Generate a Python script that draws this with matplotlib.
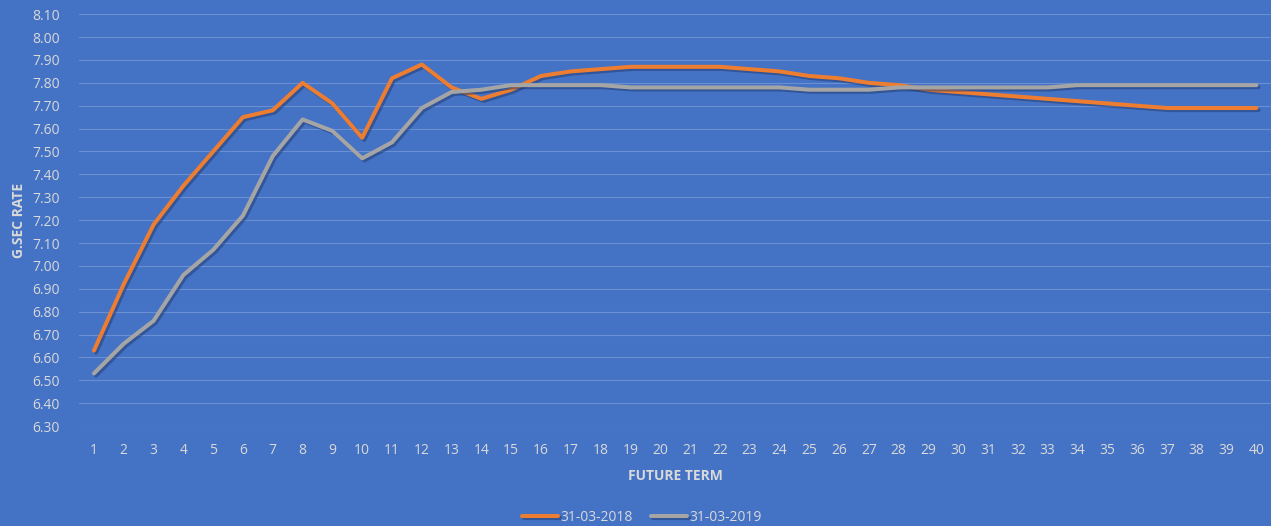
import numpy as np
import matplotlib.pyplot as plt
import matplotlib.patheffects as pe

# data
terms = list(range(1, 41))
rate_2018 = [6.63, 6.92, 7.18, 7.35, 7.50, 7.65, 7.68, 7.80, 7.71, 7.56,
             7.82, 7.88, 7.78, 7.73, 7.77, 7.83, 7.85, 7.86, 7.87, 7.87,
             7.87, 7.87, 7.86, 7.85, 7.83, 7.82, 7.80, 7.79, 7.77, 7.76,
             7.75, 7.74, 7.73, 7.72, 7.71, 7.70, 7.69, 7.69, 7.69, 7.69]
rate_2019 = [6.53, 6.66, 6.76, 6.96, 7.07, 7.22, 7.48, 7.64, 7.59, 7.47,
             7.54, 7.69, 7.76, 7.77, 7.79, 7.79, 7.79, 7.79, 7.78, 7.78,
             7.78, 7.78, 7.78, 7.78, 7.77, 7.77, 7.77, 7.78, 7.78, 7.78,
             7.78, 7.78, 7.78, 7.79, 7.79, 7.79, 7.79, 7.79, 7.79, 7.79]
series_names = ['31-03-2018', '31-03-2019']
yticks = np.arange(6.30, 8.11, 0.10)

bg = '#4472C4'
txt = '#D9D9D9'
plt.rcParams['font.family'] = ['Open Sans', 'DejaVu Sans']

fig = plt.figure(figsize=(12.71, 5.26), dpi=100, facecolor=bg)
ax = fig.add_axes([0.0622, 0.190, 0.938, 0.783], facecolor=bg)

shadow = [pe.SimpleLineShadow(offset=(1.5, -1.5), shadow_color='#1f3a6e', alpha=0.5), pe.Normal()]
ax.plot(terms, rate_2018, color='#ED7D31', lw=2.9, solid_capstyle='round',
        label=series_names[0], path_effects=shadow, zorder=3)
ax.plot(terms, rate_2019, color='#A5A5A5', lw=2.9, solid_capstyle='round',
        label=series_names[1], path_effects=shadow, zorder=3)

ax.set_xlim(0.5, 40.5)
ax.set_ylim(6.30, 8.10)
ax.set_yticks(yticks)
ax.set_yticklabels([f'{v:.2f}' for v in yticks])
ax.set_xticks(terms)
ax.grid(axis='y', color='#6a8fd2', lw=0.8)
ax.set_axisbelow(True)
for s in ax.spines.values():
    s.set_visible(False)
ax.tick_params(length=0, colors=txt, labelsize=10)
ax.tick_params(axis='y', pad=14)
ax.tick_params(axis='x', pad=12)

ax.set_xlabel('FUTURE TERM', color=txt, fontsize=10, fontweight='bold', labelpad=8)
ax.set_ylabel('G.SEC RATE', color=txt, fontsize=10, fontweight='bold', labelpad=4.5)

leg = fig.legend(loc='lower center', bbox_to_anchor=(0.505, -0.022), ncol=2, frameon=False,
                 fontsize=10, handlelength=2.6, handletextpad=0.15, columnspacing=1.3)
for t in leg.get_texts():
    t.set_color(txt)

fig.savefig('out.png', dpi=100, facecolor=bg)
